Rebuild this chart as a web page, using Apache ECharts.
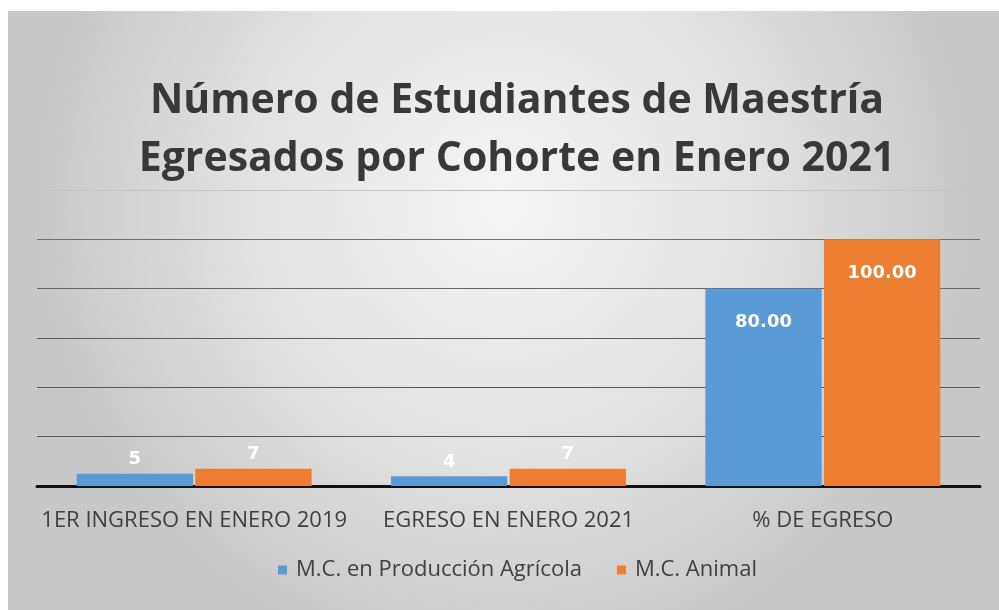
<!DOCTYPE html>
<html>
<head>
<meta charset="utf-8">
<script src="https://cdn.jsdelivr.net/npm/echarts@6/dist/echarts.min.js"></script>
<style>
  html, body { margin: 0; padding: 0; background: #fff; }
  #chart { width: 999px; height: 610px; }
</style>
</head>
<body>
<div id="chart"></div>
<script>
const categories = ['1ER INGRESO EN ENERO 2019', 'EGRESO EN ENERO 2021', '% DE EGRESO']
const seriesNames = ['M.C. en Producción Agrícola', 'M.C. Animal']
const agricola = [5, 4, 80]
const animal = [7, 7, 100]
const colors = ['#5b9bd5', '#ed7d31']

const chart = echarts.init(document.getElementById('chart'))

// small counts sit above the bar, the percentages inside the top
function labelled(values) {
  return values.map(v => ({
    value: v,
    label: v >= 20
      ? { position: 'insideTop', distance: 25, formatter: p => p.value.toFixed(2) }
      : { position: 'top', distance: 5, formatter: p => String(p.value) }
  }))
}

const barLabel = { show: true, color: '#ffffff', fontFamily: 'DejaVu Sans', fontWeight: 'bold', fontSize: 18 }

chart.setOption({
  animation: false,
  graphic: [{
    type: 'rect',
    shape: { x: 8, y: 11, width: 991, height: 599 },
    style: {
      fill: {
        type: 'radial', x: 0.5, y: 0.32, r: 0.78,
        colorStops: [
          { offset: 0, color: '#f5f5f5' },
          { offset: 0.55, color: '#e2e2e2' },
          { offset: 1, color: '#c8c8c8' }
        ]
      }
    },
    z: -10
  }],
  title: {
    text: 'Número de Estudiantes de Maestría\nEgresados por Cohorte en Enero 2021',
    left: 512,
    top: 67,
    textAlign: 'center',
    textStyle: { fontFamily: 'Open Sans', fontWeight: 'bold', fontSize: 41, lineHeight: 58, color: '#383838' }
  },
  legend: {
    data: seriesNames,
    bottom: 24,
    left: 273,
    itemWidth: 9,
    itemHeight: 9,
    itemGap: 35,
    icon: 'rect',
    textStyle: { fontFamily: 'Open Sans', fontSize: 22, color: '#404040', padding: [0, 0, 0, 4] }
  },
  grid: { left: 37, right: 19, top: 190, bottom: 124, containLabel: false },
  xAxis: {
    type: 'category',
    data: categories,
    axisLine: { lineStyle: { color: '#111', width: 3 } },
    axisTick: { show: false },
    axisLabel: { interval: 0, hideOverlap: false, fontFamily: 'Open Sans', fontSize: 22, color: '#404040', margin: 24 }
  },
  yAxis: {
    type: 'value',
    min: 0,
    max: 120,
    interval: 20,
    axisLabel: { show: false },
    axisLine: { show: false },
    splitLine: { lineStyle: { color: ['#555', '#555', '#555', '#5a5a5a', '#666', '#6e6e6e', '#c4c4c4'], width: 1.2 } }
  },
  series: [
    { name: seriesNames[0], type: 'bar', data: labelled(agricola), barWidth: '37%', barGap: '2%', itemStyle: { color: colors[0] }, label: barLabel },
    { name: seriesNames[1], type: 'bar', data: labelled(animal), barWidth: '37%', barGap: '2%', itemStyle: { color: colors[1] }, label: barLabel }
  ]
})
</script>
</body>
</html>
